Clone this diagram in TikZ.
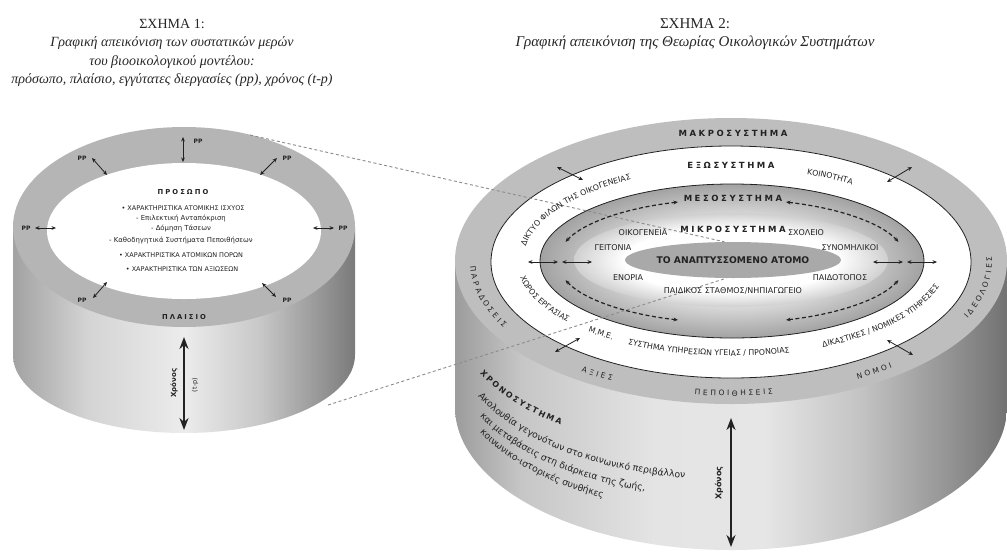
\documentclass[tikz,border=0pt]{standalone}
\usepackage{fontspec}
\setmainfont{Liberation Serif}
\newfontfamily\lab{DejaVu Sans}
\newfontfamily\labsp[LetterSpace=30]{DejaVu Sans}
\usetikzlibrary{arrows.meta,decorations.text,shapes.geometric}
\definecolor{ringL}{HTML}{B5B5B5}
\definecolor{ringR}{HTML}{BEBEBE}
\definecolor{pers}{HTML}{A9A9A9}
\definecolor{mesoIn}{HTML}{D8D8D8}
\definecolor{mesoOut}{HTML}{A2A2A2}
\definecolor{microOut}{HTML}{D0D0D0}
\definecolor{ink}{HTML}{222222}
\definecolor{conn}{HTML}{8C8C8C}
\definecolor{sLa}{HTML}{A2A2A2}\definecolor{sLb}{HTML}{D4D4D4}\definecolor{sLc}{HTML}{ECECEC}
\definecolor{sLd}{HTML}{C8C8C8}\definecolor{sLe}{HTML}{969696}\definecolor{sLf}{HTML}{7A7A7A}
\definecolor{sRa}{HTML}{9C9C9C}\definecolor{sRb}{HTML}{C6C6C6}\definecolor{sRc}{HTML}{E4E4E4}
\definecolor{sRd}{HTML}{E6E6E6}\definecolor{sRe}{HTML}{C2C2C2}\definecolor{sRf}{HTML}{929292}\definecolor{sRg}{HTML}{727272}
\pgfdeclarehorizontalshading{sideL}{100bp}{color(0bp)=(sLa); color(25bp)=(sLa); color(36bp)=(sLb); color(50bp)=(sLc); color(61bp)=(sLd); color(70bp)=(sLe); color(75bp)=(sLf); color(100bp)=(sLf)}
\pgfdeclarehorizontalshading{sideR}{100bp}{color(0bp)=(sRa); color(25bp)=(sRa); color(31bp)=(sRb); color(43bp)=(sRc); color(53bp)=(sRd); color(62bp)=(sRe); color(70bp)=(sRf); color(75bp)=(sRg); color(100bp)=(sRg)}
\pgfdeclareradialshading{meso}{\pgfpoint{0bp}{0bp}}{color(0bp)=(mesoIn); color(15bp)=(mesoIn); color(25bp)=(mesoOut); color(50bp)=(mesoOut)}
\pgfdeclareradialshading{micro}{\pgfpoint{0bp}{0bp}}{color(0bp)=(white); color(17bp)=(white); color(25bp)=(microOut); color(50bp)=(microOut)}
% curved label: cx cy rx ry start end format text
\newcommand\curvlab[8]{%
  \path[decorate,decoration={text along path,text={|#7|#8}}]
    ({#1+#3*cos(#5)},{#2+#4*sin(#5)}) arc[start angle=#5,end angle=#6,x radius=#3,y radius=#4];}
\newcommand\lsp{\kern2.6pt}
\newcommand\lspb{\kern1.9pt}
\newcommand\fBand{\color{ink}\lab\fontsize{7.5}{8}\selectfont}
\newcommand\fExo{\color{ink}\lab\fontsize{7.8}{8}\selectfont}
\newcommand\fPara{\color{ink}\lab\fontsize{9.2}{10}\selectfont}
\newcommand\fChrono{\color{ink}\lab\bfseries\fontsize{8}{9}\selectfont}
\tikzset{
  title/.style={text=black!85,font=\fontsize{14}{16}\selectfont},
  ititle/.style={text=black!85,font=\itshape\fontsize{14}{16}\selectfont},
  rtitle/.style={text=black!85,font=\fontsize{15}{17}\selectfont},
  rititle/.style={text=black!85,font=\itshape\fontsize{15}{17}\selectfont},
  head/.style={text=ink,font=\labsp\bfseries\fontsize{8.5}{9}\selectfont,inner sep=0},
  smallhead/.style={text=ink,font=\labsp\bfseries\fontsize{6.8}{7}\selectfont,inner sep=0},
  capsL/.style={text=ink,font=\lab\fontsize{6.5}{7}\selectfont,inner sep=0},
  lowL/.style={text=ink,font=\lab\fontsize{6.9}{7}\selectfont,inner sep=0},
  micro/.style={text=ink,font=\lab\fontsize{8}{9}\selectfont,inner sep=0},
  pplab/.style={text=ink,font=\lab\bfseries\fontsize{6}{7}\selectfont,inner sep=0},
  dbl/.style={{Stealth[length=4.5pt,width=3.8pt]}-{Stealth[length=4.5pt,width=3.8pt]},line width=0.8pt,draw=ink},
  dsh/.style={dbl,dash pattern=on 4pt off 2.6pt,line width=1.2pt},
  timearrow/.style={{Stealth[length=12pt,width=9pt]}-{Stealth[length=12pt,width=9pt]},line width=1.8pt,draw=ink},
  connector/.style={draw=conn,line width=0.9pt,dash pattern=on 3pt off 2.5pt},
  ring/.style={draw=ink,line width=0.8pt}
}
\begin{document}
\begin{tikzpicture}[x=1pt,y=-1pt]
\useasboundingbox (0,0) rectangle (1007,555);
\fill[white] (0,0) rectangle (1007,555);

% ---------- titles
\node[title]  (t1a) at (172,24) {ΣΧΗΜΑ 1:};
\node[ititle] (t1b) at (172,43) {Γραφική απεικόνιση των συστατικών μερών};
\node[ititle] (t1c) at (172,62) {του βιοοικολογικού μοντέλου:};
\node[ititle] (t1d) at (172,80) {πρόσωπο, πλαίσιο, εγγύτατες διεργασίες (pp), χρόνος (t-p)};
\node[rtitle]  (t2a) at (695,24) {ΣΧΗΜΑ 2:};
\node[rititle] (t2b) at (695,43) {Γραφική απεικόνιση της Θεωρίας Οικολογικών Συστημάτων};

% ---------- left cylinder
\shade[shading=sideL] (13,227) -- (13,355) arc[start angle=180,end angle=0,x radius=171,y radius=78] -- (355,227) -- cycle;
\fill[ringL] (184,227) ellipse[x radius=171,y radius=100];
\fill[white] (184,231) ellipse[x radius=137,y radius=68];

% ---------- right cylinder
\shade[shading=sideR] (455,261) -- (455,407) arc[start angle=180,end angle=0,x radius=276,y radius=143] -- (1007,261) -- cycle;
\fill[ringR] (731,261) ellipse[x radius=276,y radius=143];
\filldraw[fill=white,ring] (731,262) ellipse[x radius=240,y radius=116];
\shadedraw[shading=meso,ring] (732,261) ellipse[x radius=192,y radius=77];
\shade[shading=micro] (731,260) ellipse[x radius=157,y radius=47];
\node[ellipse,fill=pers,minimum width=196pt,minimum height=36pt,inner sep=0,text=ink,font=\lab\bfseries\fontsize{9.2}{10}\selectfont] (person) at (733,260) {ΤΟ ΑΝΑΠΤΥΣΣΟΜΕΝΟ ΑΤΟΜΟ};

% ---------- connectors between the figures
\coordinate (cA) at (250,135);
\coordinate (cB) at (328,405);
\draw[connector] (cA) -- (person.115);
\draw[connector] (cB) -- (person.250);

% ---------- left cylinder texts
\node[smallhead] (prosopo) at (183,192) {ΠΡΟΣΩΠΟ};
\node[capsL] (l1) at (183,208) {• ΧΑΡΑΚΤΗΡΙΣΤΙΚΑ ΑΤΟΜΙΚΗΣ ΙΣΧΥΟΣ};
\node[lowL]  (l2) at (181,218) {- Επιλεκτική Ανταπόκριση};
\node[lowL]  (l3) at (181,228) {- Δόμηση Τάσεων};
\node[lowL]  (l4) at (181,240) {- Καθοδηγητικά Συστήματα Πεποιθήσεων};
\node[capsL] (l5) at (181,255) {• ΧΑΡΑΚΤΗΡΙΣΤΙΚΑ ΑΤΟΜΙΚΩΝ ΠΟΡΩΝ};
\node[capsL] (l6) at (182,269) {• ΧΑΡΑΚΤΗΡΙΣΤΙΚΑ ΤΩΝ ΑΞΙΩΣΕΩΝ};
\node[smallhead] (plaisio) at (184,317) {ΠΛΑΙΣΙΟ};

% PP arrows
\node[pplab] (pp1) at (198,141) {PP};
\coordinate (p1a) at (183,162); \coordinate (p1b) at (183,137);
\draw[dbl] (p1a) -- (p1b);
\node[pplab] (pp2) at (82,158) {PP};
\coordinate (p2a) at (107,175); \coordinate (p2b) at (92,158);
\draw[dbl] (p2a) -- (p2b);
\node[pplab] (pp3) at (287,158) {PP};
\coordinate (p3a) at (260,175); \coordinate (p3b) at (277,158);
\draw[dbl] (p3a) -- (p3b);
\node[pplab] (pp4) at (26,228) {PP};
\coordinate (p4a) at (56,228); \coordinate (p4b) at (35,228);
\draw[dbl] (p4a) -- (p4b);
\node[pplab] (pp5) at (343,228) {PP};
\coordinate (p5a) at (313,228); \coordinate (p5b) at (334,228);
\draw[dbl] (p5a) -- (p5b);
\node[pplab] (pp6) at (82,300) {PP};
\coordinate (p6a) at (107,282); \coordinate (p6b) at (93,298);
\draw[dbl] (p6a) -- (p6b);
\node[pplab] (pp7) at (287,300) {PP};
\coordinate (p7a) at (262,283); \coordinate (p7b) at (276,297);
\draw[dbl] (p7a) -- (p7b);

% time arrow left
\coordinate (tL1) at (184,337); \coordinate (tL2) at (184,430);
\draw[timearrow] (tL1) -- (tL2);
\node[rotate=90,text=ink,font=\lab\bfseries\fontsize{7}{8}\selectfont] (xrL) at (174,383) {Χρόνος};
\node[rotate=90,text=ink,font=\lab\fontsize{6.5}{7}\selectfont] (tpL) at (195,385) {(t-p)};

% ---------- right cylinder headings
\node[head] (macro) at (733,133) {ΜΑΚΡΟΣΥΣΤΗΜΑ};
\node[head] (exo)   at (731,165) {ΕΞΩΣΥΣΤΗΜΑ};
\node[head] (meso)  at (733,198) {ΜΕΣΟΣΥΣΤΗΜΑ};
\node[head] (micro) at (733,229) {ΜΙΚΡΟΣΥΣΤΗΜΑ};

% micro texts
\node[micro] (oik)    at (643,233) {ΟΙΚΟΓΕΝΕΙΑ};
\node[micro] (geit)   at (613,248) {ΓΕΙΤΟΝΙΑ};
\node[micro] (enor)   at (628,278) {ΕΝΟΡΙΑ};
\node[micro] (paid)   at (733,291) {ΠΑΙΔΙΚΟΣ ΣΤΑΘΜΟΣ/ΝΗΠΙΑΓΩΓΕΙΟ};
\node[micro] (sxol)   at (806,233) {ΣΧΟΛΕΙΟ};
\node[micro] (synom)  at (850,248) {ΣΥΝΟΜΗΛΙΚΟΙ};
\node[micro] (paidot) at (840,278) {ΠΑΙΔΟΤΟΠΟΣ};

% exo band labels
\curvlab{732}{261}{209}{93}{189}{285}{\fExo}{ΔΙΚΤΥΟ ΦΙΛΩΝ ΤΗΣ ΟΙΚΟΓΕΝΕΙΑΣ}
\curvlab{732}{261}{209}{93}{291}{335}{\fExo}{ΚΟΙΝΟΤΗΤΑ}
\curvlab{732}{261}{215}{95}{170}{120}{\fExo}{ΧΩΡΟΣ ΕΡΓΑΣΙΑΣ}
\curvlab{732}{261}{215}{95}{132}{110}{\fExo}{Μ.Μ.Ε.}
\curvlab{732}{261}{215}{95}{119}{40}{\fExo}{ΣΥΣΤΗΜΑ ΥΠΗΡΕΣΙΩΝ ΥΓΕΙΑΣ / ΠΡΟΝΟΙΑΣ}
\curvlab{732}{261}{215}{95}{65}{-15}{\fExo}{ΔΙΚΑΣΤΙΚΕΣ / ΝΟΜΙΚΕΣ ΥΠΗΡΕΣΙΕΣ}

% macro band labels (letter-spaced)
\curvlab{731}{262}{261}{134}{178}{115}{\fBand}{Π{\lsp}Α{\lsp}Ρ{\lsp}Α{\lsp}Δ{\lsp}Ο{\lsp}Σ{\lsp}Ε{\lsp}Ι{\lsp}Σ}
\curvlab{731}{262}{261}{134}{125}{90}{\fBand}{Α{\lsp}Ξ{\lsp}Ι{\lsp}Ε{\lsp}Σ}
\curvlab{731}{262}{261}{134}{98}{40}{\fBand}{Π{\lsp}Ε{\lsp}Π{\lsp}Ο{\lsp}Ι{\lsp}Θ{\lsp}Η{\lsp}Σ{\lsp}Ε{\lsp}Ι{\lsp}Σ}
\curvlab{731}{262}{261}{134}{61}{25}{\fBand}{Ν{\lsp}Ο{\lsp}Μ{\lsp}Ο{\lsp}Ι}
\curvlab{731}{262}{261}{134}{25}{-35}{\fBand}{Ι{\lsp}Δ{\lsp}Ε{\lsp}Ο{\lsp}Λ{\lsp}Ο{\lsp}Γ{\lsp}Ι{\lsp}Ε{\lsp}Σ}

% chronosystem text on the side
\curvlab{730}{312}{277}{143}{154.5}{60}{\fChrono}{Χ{\lspb}Ρ{\lspb}Ο{\lspb}Ν{\lspb}Ο{\lspb}Σ{\lspb}Υ{\lspb}Σ{\lspb}Τ{\lspb}Η{\lspb}Μ{\lspb}Α}
\curvlab{730}{337}{277}{143}{155.5}{60}{\fPara}{Ακολουθία γεγονότων στο κοινωνικό περιβάλλον}
\curvlab{730}{355}{277}{143}{154.5}{60}{\fPara}{και μεταβάσεις στη διάρκεια της ζωής,}
\curvlab{730}{371}{277}{143}{154.5}{60}{\fPara}{κοινωνικο-ιστορικές συνθήκες}

% solid arrows across the rings
\coordinate (r1a) at (557,167); \coordinate (r1b) at (583,180); \draw[dbl] (r1a) -- (r1b);
\coordinate (r2a) at (887,182); \coordinate (r2b) at (912,167); \draw[dbl] (r2a) -- (r2b);
\coordinate (r3a) at (555,352); \coordinate (r3b) at (580,338); \draw[dbl] (r3a) -- (r3b);
\coordinate (r4a) at (887,340); \coordinate (r4b) at (913,355); \draw[dbl] (r4a) -- (r4b);
\coordinate (r5a) at (528,262); \coordinate (r5b) at (558,262); \draw[dbl] (r5a) -- (r5b);
\coordinate (r6a) at (562,262); \coordinate (r6b) at (592,262); \draw[dbl] (r6a) -- (r6b);
\coordinate (r7a) at (873,262); \coordinate (r7b) at (903,262); \draw[dbl] (r7a) -- (r7b);
\coordinate (r8a) at (907,262); \coordinate (r8b) at (937,262); \draw[dbl] (r8a) -- (r8b);

% dashed arcs in the mesosystem
\draw[dsh] ({732+175*cos(198)},{261+62*sin(198)}) arc[start angle=198,end angle=252,x radius=175,y radius=62];
\draw[dsh] ({732+175*cos(288)},{261+62*sin(288)}) arc[start angle=288,end angle=342,x radius=175,y radius=62];
\draw[dsh] ({732+175*cos(162)},{261+62*sin(162)}) arc[start angle=162,end angle=108,x radius=175,y radius=62];
\draw[dsh] ({732+175*cos(72)},{261+62*sin(72)}) arc[start angle=72,end angle=18,x radius=175,y radius=62];

% time arrow right
\coordinate (tR1) at (731,418); \coordinate (tR2) at (731,547);
\draw[timearrow] (tR1) -- (tR2);
\node[rotate=90,text=ink,font=\lab\bfseries\fontsize{8}{9}\selectfont] (xrR) at (719,483) {Χρόνος};
\end{tikzpicture}
\end{document}
